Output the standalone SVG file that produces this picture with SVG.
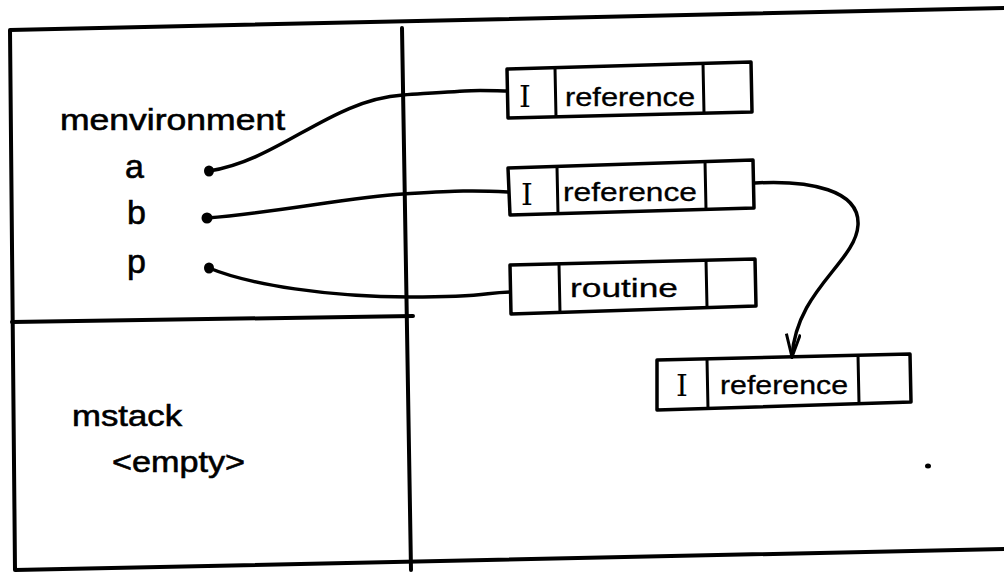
<svg xmlns="http://www.w3.org/2000/svg" width="1004" height="575" viewBox="0 0 1004 575">
<style>
.frame{fill:none;stroke:#000;stroke-width:4;stroke-linejoin:round;stroke-linecap:round}
.box{fill:#fff;stroke:#000;stroke-width:3.5;stroke-linejoin:round}
.div{stroke:#000;stroke-width:3}
.wire{fill:none;stroke:#000;stroke-width:3.5;stroke-linecap:round}
.lbl{font-family:"Liberation Sans","DejaVu Sans",sans-serif;fill:#000;stroke:#000;stroke-width:0.6}
.big{font-size:30px}
.var{font-size:34px}
.cell{font-size:26px;stroke-width:0.3}
.eye{font-family:"DejaVu Serif","Liberation Serif",serif;font-size:30px;fill:#000}
</style>
<defs>
<marker id="vee" viewBox="0 0 26 16" refX="24" refY="8" markerWidth="26" markerHeight="16" markerUnits="userSpaceOnUse" orient="auto">
<path d="M1,1 L24,8 L1,15" fill="none" stroke="#000" stroke-width="3"/>
</marker>
</defs>
<rect width="1004" height="575" fill="#fff"/>
<g id="frame">
<path class="frame" d="M1004,8 L10,30 L15,570 L1004,549"/>
<path class="frame" d="M402,28 L411,570"/>
<path class="frame" d="M12,322 L413,316"/>
</g>
<g id="menvironment">
<text class="lbl big" x="60" y="130" textLength="225" lengthAdjust="spacingAndGlyphs">menvironment</text>
</g>
<g id="var-a">
<text class="lbl var" x="125" y="178">a</text>
<ellipse cx="209" cy="171" rx="5" ry="5.5" fill="#000"/>
</g>
<g id="var-b">
<text class="lbl var" x="127" y="224">b</text>
<ellipse cx="207" cy="218" rx="5.5" ry="5.5" fill="#000"/>
</g>
<g id="var-p">
<text class="lbl var" x="127" y="273">p</text>
<ellipse cx="209" cy="268" rx="5" ry="5.5" fill="#000"/>
</g>
<g id="mstack">
<text class="lbl big" x="72" y="426" textLength="110" lengthAdjust="spacingAndGlyphs">mstack</text>
<text class="lbl big" x="112" y="472" textLength="133" lengthAdjust="spacingAndGlyphs">&lt;empty&gt;</text>
</g>
<g id="box1">
<path class="box" d="M507,69 L751,62 L752,112 L508,118 Z"/>
<path class="div" d="M555,68 L556,117 M703,63 L704,113"/>
<text class="eye" x="519" y="107">I</text>
<text class="lbl cell" x="565" y="106" textLength="130" lengthAdjust="spacingAndGlyphs">reference</text>
</g>
<g id="box2">
<path class="box" d="M508,168 L753,160 L754,208 L510,215 Z"/>
<path class="div" d="M557,167 L558,214 M705,161 L706,209"/>
<text class="eye" x="521" y="205">I</text>
<text class="lbl cell" x="563" y="201" textLength="134" lengthAdjust="spacingAndGlyphs">reference</text>
</g>
<g id="box3">
<path class="box" d="M510,265 L755,259 L756,306 L511,314 Z"/>
<path class="div" d="M559,264 L560,313 M706,260 L707,307"/>
<text class="lbl cell" x="570" y="297" textLength="108" lengthAdjust="spacingAndGlyphs">routine</text>
</g>
<g id="box4">
<path class="box" d="M657,360 L910,354 L911,402 L657,410 Z"/>
<path class="div" d="M707,359 L708,409 M858,355 L859,403"/>
<text class="eye" x="676" y="396">I</text>
<text class="lbl cell" x="720" y="394" textLength="128" lengthAdjust="spacingAndGlyphs">reference</text>
</g>
<g id="connectors">
<path class="wire" d="M209,171 C280,160 330,100 403,95 S470,90 507,91"/>
<path class="wire" d="M207,218 C280,212 350,197 403,194 S470,190 508,192"/>
<path class="wire" d="M209,268 C250,285 330,297 410,297 S480,293 510,292"/>
<path class="wire" d="M755,183 C810,180 860,190 858,225 C856,262 796,290 792,357" marker-end="url(#vee)"/>
</g>
<ellipse cx="928" cy="466" rx="3" ry="2.5" fill="#000"/>
</svg>
